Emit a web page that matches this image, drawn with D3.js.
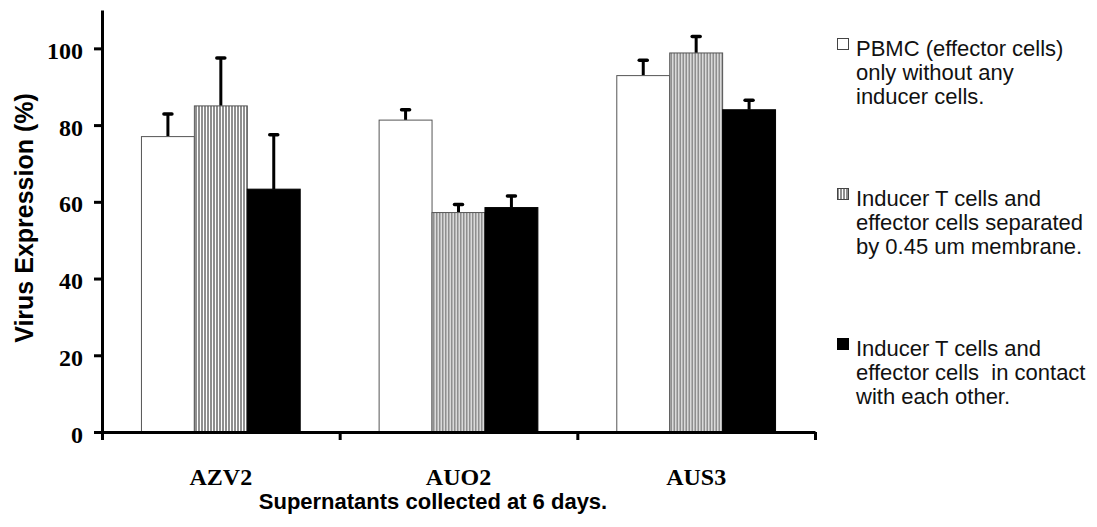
<!DOCTYPE html>
<html>
<head>
<meta charset="utf-8">
<script src="https://cdn.jsdelivr.net/npm/d3@7"></script>
<style>
  body { margin: 0; background: #fff; }
  svg { display: block; }
</style>
</head>
<body>
<svg class="chart"></svg>
<script>
var categories = ["AZV2", "AUO2", "AUS3"];
var seriesNames = ["pbmc", "separated", "contact"];
var pbmc = [77.0, 81.3, 92.9];
var pbmcErr = [5.9, 2.7, 4.0];
var separated = [85.0, 57.2, 98.8];
var separatedErr = [12.5, 2.1, 4.3];
var contact = [63.3, 58.5, 84.0];
var contactErr = [14.2, 3.0, 2.5];
var yTicks = [0, 20, 40, 60, 80, 100];
var legendLines = [
  ["PBMC (effector cells)", "only without any", "inducer cells."],
  ["Inducer T cells and", "effector cells separated", "by 0.45 um membrane."],
  ["Inducer T cells and", "effector cells  in contact", "with each other."]
];

var width = 1097, height = 527;
var plotLeft = 102, plotRight = 815, plotTop = 10, plotBottom = 432;

var svg = d3.select(".chart")
	.attr("width", width)
	.attr("height", height);

var defs = svg.append("defs");
var pat = defs.append("pattern")
	.attr("id", "stripes")
	.attr("patternUnits", "userSpaceOnUse")
	.attr("width", 3)
	.attr("height", 10);
pat.append("rect").attr("width", 3).attr("height", 10).attr("fill", "#fff");
pat.append("rect").attr("width", 2).attr("height", 10).attr("fill", "#8f8f8f");

var fills = { pbmc: "#fff", separated: "url(#stripes)", contact: "#000" };
var strokes = { pbmc: "#555", separated: "#555", contact: "#000" };

var x = d3.scaleBand()
	.domain(categories)
	.range([plotLeft, plotRight])
	.padding(0);

var bw = x.bandwidth();
var xSub = d3.scaleBand()
	.domain(seriesNames)
	.range([bw * 0.166, bw * 0.834]);

var y = d3.scaleLinear()
	.domain([0, 110])
	.range([plotBottom, plotTop]);

var rows = categories.map(function(c, i) {
	return [
		{ cat: c, key: "pbmc", v: pbmc[i], e: pbmcErr[i] },
		{ cat: c, key: "separated", v: separated[i], e: separatedErr[i] },
		{ cat: c, key: "contact", v: contact[i], e: contactErr[i] }
	];
});

var group = svg.selectAll("g.cat")
	.data(rows)
	.enter().append("g")
	.attr("class", "cat")
	.attr("transform", function(d, i) { return "translate(" + x(categories[i]) + ",0)"; });

// error bars (upward only)
var err = group.selectAll("g.err")
	.data(function(d) { return d; })
	.enter().append("g")
	.attr("class", "err");

err.append("line")
	.attr("x1", function(d) { return xSub(d.key) + xSub.bandwidth() / 2; })
	.attr("x2", function(d) { return xSub(d.key) + xSub.bandwidth() / 2; })
	.attr("y1", function(d) { return y(d.v); })
	.attr("y2", function(d) { return y(d.v + d.e); })
	.attr("stroke", "#000")
	.attr("stroke-width", 3);

err.append("line")
	.attr("x1", function(d) { return xSub(d.key) + xSub.bandwidth() / 2 - 4; })
	.attr("x2", function(d) { return xSub(d.key) + xSub.bandwidth() / 2 + 4; })
	.attr("y1", function(d) { return y(d.v + d.e); })
	.attr("y2", function(d) { return y(d.v + d.e); })
	.attr("stroke", "#000")
	.attr("stroke-width", 3.5)
	.attr("stroke-linecap", "round");

group.selectAll("rect")
	.data(function(d) { return d; })
	.enter().append("rect")
	.attr("x", function(d) { return xSub(d.key); })
	.attr("y", function(d) { return y(d.v); })
	.attr("width", xSub.bandwidth())
	.attr("height", function(d) { return y(0) - y(d.v); })
	.attr("fill", function(d) { return fills[d.key]; })
	.attr("stroke", function(d) { return strokes[d.key]; })
	.attr("stroke-width", 1);

// y axis
var yAxis = svg.append("g")
	.attr("transform", "translate(" + plotLeft + ",0)")
	.call(d3.axisLeft(y).tickValues(yTicks).tickSize(8).tickSizeOuter(0).tickPadding(11));

yAxis.select(".domain").attr("stroke-width", 3);
yAxis.selectAll(".tick line").attr("stroke-width", 3);
yAxis.selectAll(".tick text")
	.attr("dy", "0.42em")
	.style("font-family", "'Liberation Serif', 'Times New Roman', serif")
	.style("font-weight", "bold")
	.style("font-size", "24px")
	.attr("fill", "#000");

// x axis with ticks at category boundaries
var xEdge = d3.scaleLinear().domain([0, categories.length]).range([plotLeft, plotRight]);
var xAxis = svg.append("g")
	.attr("transform", "translate(0," + plotBottom + ")")
	.call(d3.axisBottom(xEdge).tickValues(d3.range(categories.length + 1)).tickFormat("").tickSize(8).tickSizeOuter(0));

xAxis.select(".domain").attr("stroke-width", 3);
xAxis.selectAll(".tick line").attr("stroke-width", 3);

svg.selectAll("text.cat")
	.data(categories)
	.enter().append("text")
	.attr("class", "cat")
	.attr("x", function(d) { return x(d) + bw / 2; })
	.attr("y", 485)
	.attr("text-anchor", "middle")
	.style("font-family", "'Liberation Serif', 'Times New Roman', serif")
	.style("font-weight", "bold")
	.style("font-size", "24px")
	.text(function(d) { return d; });

svg.append("text")
	.attr("x", 433)
	.attr("y", 509)
	.attr("text-anchor", "middle")
	.style("font-family", "'Liberation Sans', Arial, sans-serif")
	.style("font-weight", "bold")
	.style("font-size", "22px")
	.text("Supernatants collected at 6 days.");

svg.append("text")
	.attr("transform", "translate(33,218) rotate(-90)")
	.attr("text-anchor", "middle")
	.style("font-family", "'Liberation Sans', Arial, sans-serif")
	.style("font-weight", "bold")
	.style("font-size", "25px")
	.text("Virus Expression (%)");

// legend
var legend = svg.selectAll("g.legend")
	.data(seriesNames)
	.enter().append("g")
	.attr("class", "legend")
	.attr("transform", function(d, i) { return "translate(837," + (56 + i * 150) + ")"; });

legend.append("rect")
	.attr("x", 0.5)
	.attr("y", -17.5)
	.attr("width", 11)
	.attr("height", 11)
	.attr("fill", function(d) { return fills[d]; })
	.attr("stroke", function(d) { return d === "contact" ? "#000" : "#444"; })
	.attr("stroke-width", 1);

legend.append("text")
	.attr("x", 19)
	.style("font-family", "'Liberation Sans', Arial, sans-serif")
	.style("font-size", "22px")
	.attr("fill", "#111")
	.selectAll("tspan")
	.data(function(d, i) { return legendLines[i]; })
	.enter().append("tspan")
	.attr("x", 19)
	.attr("dy", function(d, i) { return i === 0 ? 0 : 24; })
	.style("white-space", "pre")
	.text(function(d) { return d; });
</script>
</body>
</html>
